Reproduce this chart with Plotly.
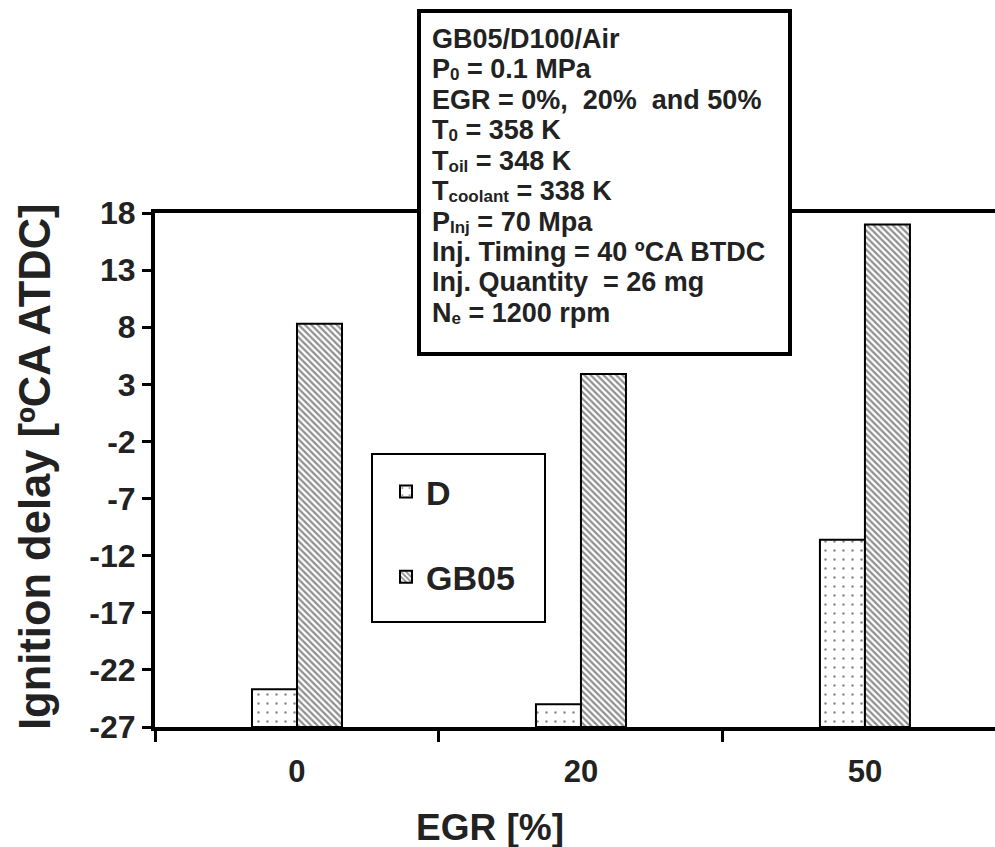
import plotly.graph_objects as go

# ---- data ----
egr_labels = ["0", "20", "50"]
d_values = [-23.7, -25.0, -10.6]
gb05_values = [8.3, 3.9, 17.0]
y_min, y_max = -27, 18
y_ticks = [-27, -22, -17, -12, -7, -2, 3, 8, 13, 18]
y_tick_labels = ["-27", "-22", "-17", "-12", "-7", "-2", "3", "8", "13", "18"]
info_lines = [
    "GB05/D100/Air",
    "P<sub>0</sub> = 0.1 MPa",
    "EGR = 0%,  20%  and 50%",
    "T<sub>0</sub> = 358 K",
    "T<sub>oil</sub> = 348 K",
    "T<sub>coolant</sub> = 338 K",
    "P<sub>Inj</sub> = 70 Mpa",
    "Inj. Timing = 40 ºCA BTDC",
    "Inj. Quantity  = 26 mg",
    "N<sub>e</sub> = 1200 rpm",
]

FONT = "Liberation Sans"
TXT = "#222"

fig = go.Figure()
fig.add_trace(go.Bar(
    x=egr_labels, y=[v - y_min for v in d_values], base=y_min, name="D",
    marker=dict(color="white", line=dict(color="black", width=2),
                pattern=dict(shape=".", fgcolor="#111", bgcolor="white",
                             size=9, solidity=0.06)),
    legendgroup="a"))
fig.add_trace(go.Bar(
    x=egr_labels, y=[v - y_min for v in gb05_values], base=y_min, name="GB05",
    marker=dict(color="white", line=dict(color="black", width=2),
                pattern=dict(shape="\\", fgcolor="#222", bgcolor="white",
                             size=4.5, solidity=0.5)),
    legendgroup="b"))

W, H = 995, 847
L, R, T, B = 155, 0, 213, 120
pw, ph = W - L - R, H - T - B

def px(x):
    return (x - L) / pw

def py(y):
    return (H - B - y) / ph

fig.update_layout(
    width=W, height=H, margin=dict(l=L, r=R, t=T, b=B),
    paper_bgcolor="white", plot_bgcolor="white",
    barmode="group", bargap=0.683, bargroupgap=0,
    font=dict(family=FONT, color="black"),
    showlegend=True,
    legend=dict(x=px(386), y=py(463), xanchor="left", yanchor="top",
                bgcolor="rgba(0,0,0,0)", borderwidth=0,
                font=dict(family=FONT, size=34, color=TXT, weight="bold"),
                tracegroupgap=38, traceorder="grouped", itemwidth=30),
)

fig.update_xaxes(
    type="category", range=[-0.5, 2.458], showline=True, linecolor="black",
    linewidth=4, mirror=True, ticks="outside", tickson="boundaries",
    ticklen=11, tickwidth=3, tickcolor="black", showgrid=False,
    tickfont=dict(family=FONT, size=31, weight="bold", color=TXT),
    ticklabelstandoff=14)
fig.update_yaxes(
    range=[y_min, y_max], tickvals=y_ticks, ticktext=y_tick_labels,
    showline=True, linecolor="black",
    linewidth=4, ticks="outside", ticklen=9, tickwidth=3, tickcolor="black",
    showgrid=False, zeroline=False,
    tickfont=dict(family=FONT, size=32, weight="bold", color=TXT),
    ticklabelstandoff=0)

# axis titles
fig.add_annotation(text="Ignition delay [ºCA ATDC]", xref="paper", yref="paper",
                   x=px(35), y=py(467), textangle=-90, showarrow=False,
                   xanchor="center", yanchor="middle",
                   font=dict(family=FONT, size=43.5, weight="bold", color=TXT))
fig.add_annotation(text="EGR [%]", xref="paper", yref="paper",
                   x=px(490), y=py(827), showarrow=False,
                   xanchor="center", yanchor="middle",
                   font=dict(family=FONT, size=37, weight="bold", color=TXT))

# legend frame
fig.add_shape(type="rect", xref="paper", yref="paper", layer="above",
              x0=px(372), x1=px(545), y0=py(622), y1=py(454),
              line=dict(color="black", width=2), fillcolor="rgba(0,0,0,0)")

# conditions box
fig.add_shape(type="rect", xref="paper", yref="paper", layer="above",
              x0=px(419), x1=px(790), y0=py(354), y1=py(11),
              line=dict(color="black", width=4), fillcolor="white")
SUB_OPEN = '<span style="font-size:17px;baseline-shift:-2px">'
info_text = "<br>".join(
    '<span style="font-size:27px">'
    + s.replace("<sub>", SUB_OPEN).replace("</sub>", "</span>")
    + "</span>" for s in info_lines)
fig.add_annotation(text=info_text, xref="paper", yref="paper",
                   x=px(430), y=py(22), xanchor="left", yanchor="top",
                   showarrow=False, align="left",
                   font=dict(family=FONT, size=23.4, weight="bold", color=TXT))

fig.write_html("out.html")
